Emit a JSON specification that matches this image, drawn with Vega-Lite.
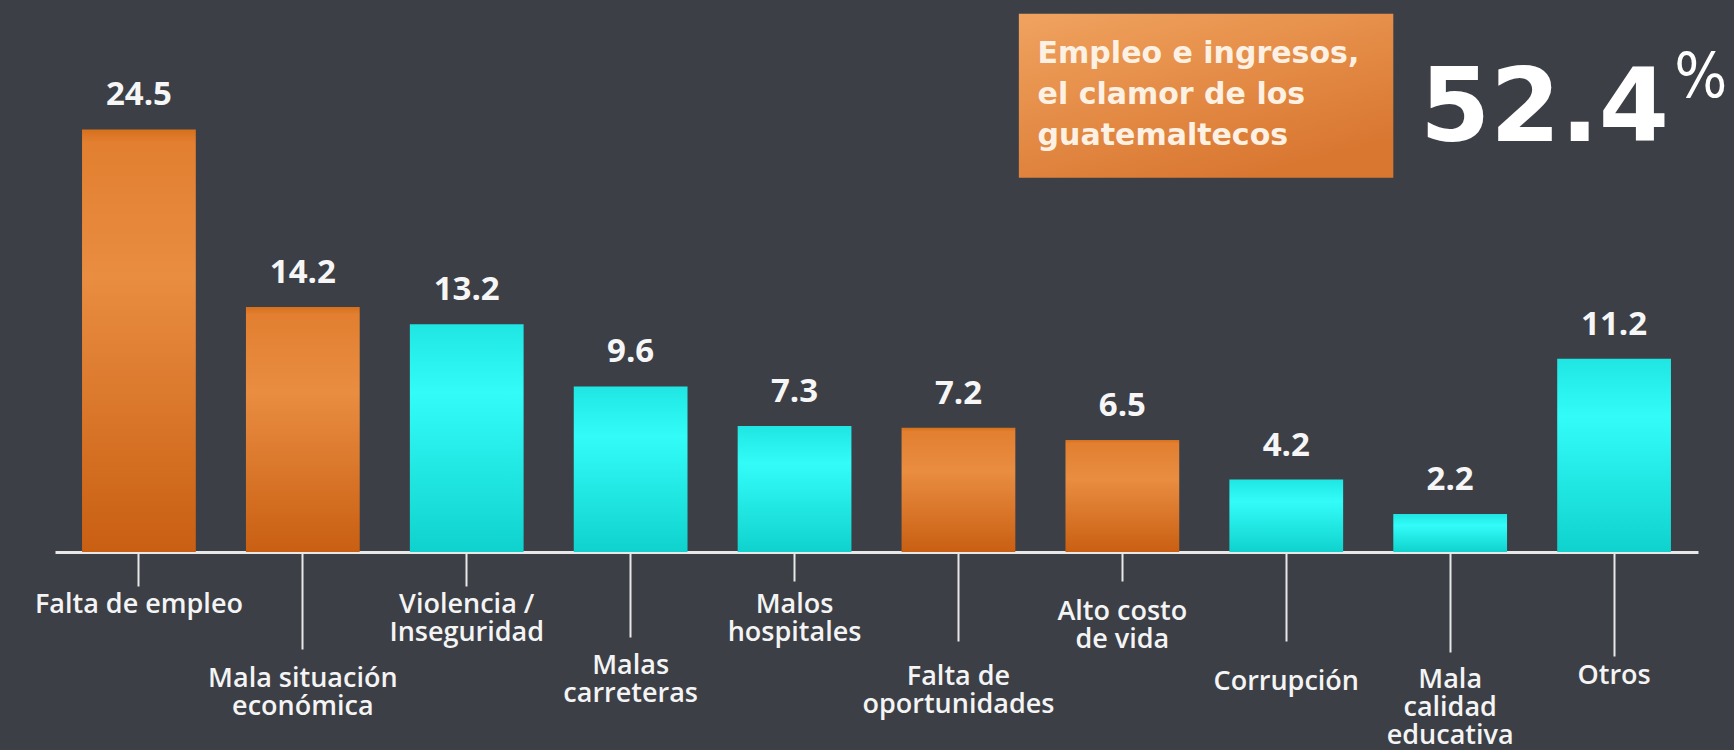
{
  "$schema": "https://vega.github.io/schema/vega-lite/v6.json",
  "width": 1643,
  "height": 552,
  "autosize": {"type": "none"},
  "padding": {"left": 55, "top": 0, "right": 36, "bottom": 198},
  "background": "#3c3f46",
  "config": {"view": {"stroke": null}, "axis": {"grid": false}},
  "data": {
    "values": [
      {"tema": "Falta de empleo", "valor": 24.5, "grupo": "empleo"},
      {"tema": "Mala situación|económica", "valor": 14.2, "grupo": "empleo"},
      {"tema": "Violencia /|Inseguridad", "valor": 13.2, "grupo": "otro"},
      {"tema": "Malas|carreteras", "valor": 9.6, "grupo": "otro"},
      {"tema": "Malos|hospitales", "valor": 7.3, "grupo": "otro"},
      {"tema": "Falta de|oportunidades", "valor": 7.2, "grupo": "empleo"},
      {"tema": "Alto costo|de vida", "valor": 6.5, "grupo": "empleo"},
      {"tema": "Corrupción", "valor": 4.2, "grupo": "otro"},
      {"tema": "Mala|calidad|educativa", "valor": 2.2, "grupo": "otro"},
      {"tema": "Otros", "valor": 11.2, "grupo": "otro"}
    ]
  },
  "layer": [
    {
      "transform": [{"filter": "datum.grupo === 'empleo'"}],
      "mark": {"type": "bar",
        "color": {"gradient": "linear", "x1": 0, "y1": 0, "x2": 0, "y2": 1,
          "stops": [{"offset": 0, "color": "#d5701c"}, {"offset": 0.03, "color": "#e27f30"}, {"offset": 0.35, "color": "#e98d41"}, {"offset": 1, "color": "#c95f12"}]}},
      "encoding": {
        "x": {
          "field": "tema", "type": "nominal", "sort": null,
          "scale": {
            "domain": ["Falta de empleo", "Mala situación|económica", "Violencia /|Inseguridad", "Malas|carreteras", "Malos|hospitales", "Falta de|oportunidades", "Alto costo|de vida", "Corrupción", "Mala|calidad|educativa", "Otros"],
            "paddingInner": 0.306, "paddingOuter": 0.165
          },
          "axis": {
            "title": null,
            "labelAngle": 0,
            "domainColor": "#e8e8e8",
            "domainWidth": 3,
            "tickColor": "#e8e8e8",
            "tickWidth": 2,
            "tickSize": {
              "condition": [
                {"test": "datum.value === 'Mala situación|económica'", "value": 97},
                {"test": "datum.value === 'Malas|carreteras'", "value": 85},
                {"test": "datum.value === 'Malos|hospitales'", "value": 29},
                {"test": "datum.value === 'Falta de|oportunidades'", "value": 89},
                {"test": "datum.value === 'Alto costo|de vida'", "value": 29},
                {"test": "datum.value === 'Corrupción'", "value": 89},
                {"test": "datum.value === 'Mala|calidad|educativa'", "value": 100},
                {"test": "datum.value === 'Otros'", "value": 104}
              ],
              "value": 34
            },
            "labelPadding": {
              "condition": [
                {"test": "datum.value === 'Mala situación|económica'", "value": 16},
                {"test": "datum.value === 'Malas|carreteras'", "value": 15},
                {"test": "datum.value === 'Malos|hospitales'", "value": 10},
                {"test": "datum.value === 'Falta de|oportunidades'", "value": 22},
                {"test": "datum.value === 'Alto costo|de vida'", "value": 17},
                {"test": "datum.value === 'Corrupción'", "value": 27},
                {"test": "datum.value === 'Mala|calidad|educativa'", "value": 14},
                {"test": "datum.value === 'Otros'", "value": 6}
              ],
              "value": 5
            },
            "labelExpr": "split(datum.label, '|')",
            "labelFont": "Open Sans",
            "labelFontSize": 27,
            "labelFontWeight": 600,
            "labelColor": "#f4f4f4",
            "labelLineHeight": 28,
            "labelBaseline": "top",
            "labelLimit": 400,
            "labelOverlap": false,
            "labelBound": false,
            "labelFlush": false
          }
        },
        "y": {"field": "valor", "type": "quantitative", "scale": {"domain": [0, 32], "nice": false, "zero": true}, "axis": null}
      }
    },
    {
      "transform": [{"filter": "datum.grupo !== 'empleo'"}],
      "mark": {"type": "bar",
        "color": {"gradient": "linear", "x1": 0, "y1": 0, "x2": 0, "y2": 1,
          "stops": [{"offset": 0, "color": "#1fe6e2"}, {"offset": 0.3, "color": "#33fcf8"}, {"offset": 1, "color": "#0fd2ce"}]}},
      "encoding": {
        "x": {"field": "tema", "type": "nominal", "sort": null},
        "y": {"field": "valor", "type": "quantitative", "axis": null}
      }
    },
    {
      "mark": {"type": "text", "dy": -24, "baseline": "alphabetic", "align": "center", "font": "Open Sans", "fontSize": 33, "fontWeight": "bold", "color": "#f6f6f6"},
      "encoding": {
        "x": {"field": "tema", "type": "nominal", "sort": null},
        "y": {"field": "valor", "type": "quantitative", "axis": null},
        "text": {"field": "valor", "type": "quantitative", "format": ".1f"}
      }
    },
    {
      "transform": [
        {"filter": "datum.grupo === 'empleo'"},
        {"aggregate": [{"op": "sum", "field": "valor", "as": "total"}]}
      ],
      "mark": {"type": "rect",
        "color": {"gradient": "linear", "x1": 0, "y1": 0, "x2": 0.6, "y2": 1,
          "stops": [{"offset": 0, "color": "#f0a35f"}, {"offset": 1, "color": "#d97731"}]}},
      "encoding": {
        "x": {"datum": "Alto costo|de vida", "type": "nominal", "bandPosition": -0.41},
        "x2": {"datum": "Mala|calidad|educativa", "bandPosition": 0},
        "y": {"datum": 31.2, "type": "quantitative", "axis": null},
        "y2": {"datum": 21.7}
      }
    },
    {
      "transform": [
        {"filter": "datum.grupo === 'empleo'"},
        {"aggregate": [{"op": "sum", "field": "valor", "as": "total"}]}
      ],
      "mark": {"type": "text", "align": "left", "baseline": "alphabetic", "font": "DejaVu Sans", "fontSize": 30, "fontWeight": "bold", "lineHeight": 41, "color": "#fdf1e3"},
      "encoding": {
        "x": {"datum": "Alto costo|de vida", "type": "nominal", "bandPosition": -0.245},
        "y": {"datum": 28.35, "type": "quantitative", "axis": null},
        "text": {"value": ["Empleo e ingresos,", "el clamor de los", "guatemaltecos"]}
      }
    },
    {
      "transform": [
        {"filter": "datum.grupo === 'empleo'"},
        {"aggregate": [{"op": "sum", "field": "valor", "as": "total"}]}
      ],
      "mark": {"type": "text", "align": "right", "baseline": "alphabetic", "font": "DejaVu Sans", "fontSize": 101, "fontWeight": "bold", "color": "#ffffff"},
      "encoding": {
        "x": {"datum": "Otros", "type": "nominal", "bandPosition": 0.984},
        "y": {"datum": 23.84, "type": "quantitative", "axis": null},
        "text": {"field": "total", "type": "quantitative", "format": ".1f"}
      }
    },
    {
      "transform": [
        {"filter": "datum.grupo === 'empleo'"},
        {"aggregate": [{"op": "sum", "field": "valor", "as": "total"}]}
      ],
      "mark": {"type": "text", "align": "left", "baseline": "alphabetic", "font": "DejaVu Sans Condensed", "fontSize": 62, "fontWeight": "normal", "color": "#ffffff"},
      "encoding": {
        "x": {"datum": "Otros", "type": "nominal", "bandPosition": 1.03},
        "y": {"datum": 26.4, "type": "quantitative", "axis": null},
        "text": {"value": "%"}
      }
    }
  ]
}
